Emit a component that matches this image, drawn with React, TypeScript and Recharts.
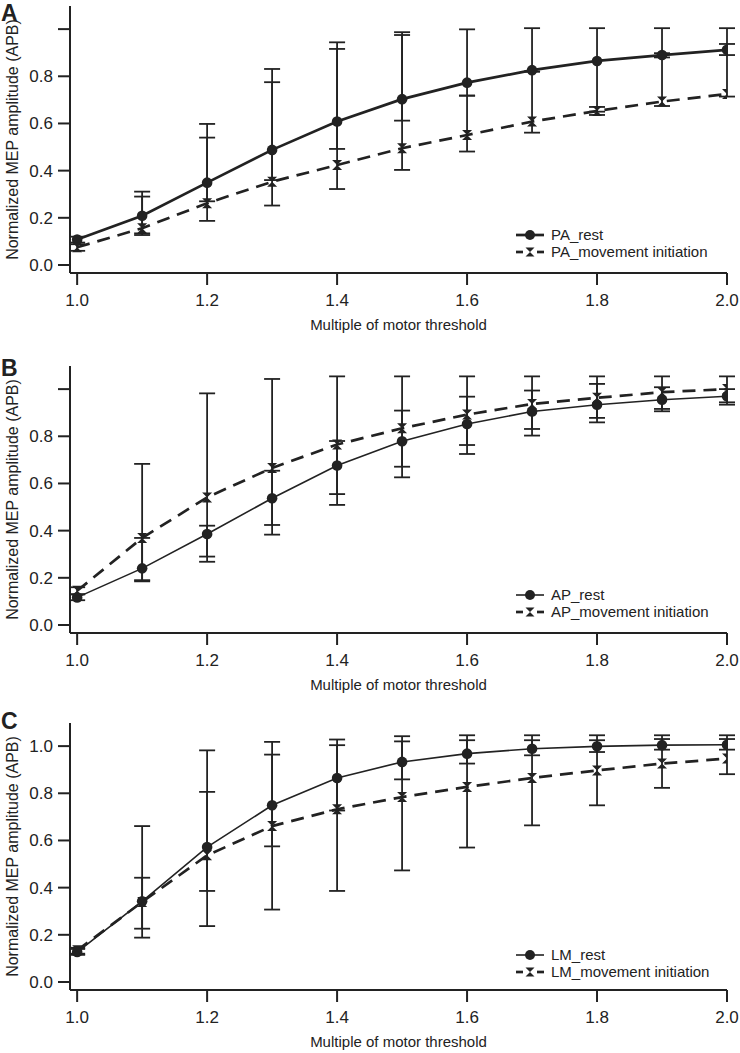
import React from 'react';
import { ErrorBar, Legend, Line, LineChart, XAxis, YAxis } from 'recharts';

// Three stacked panels (A/B/C): normalized MEP amplitude vs. multiple of motor
// threshold, rest vs. movement initiation, with asymmetric error bars.

const X = [1.0, 1.1, 1.2, 1.3, 1.4, 1.5, 1.6, 1.7, 1.8, 1.9, 2.0];
const X_TICKS = [1.0, 1.2, 1.4, 1.6, 1.8, 2.0];
const Y_TICKS = [0, 0.2, 0.4, 0.6, 0.8, 1.0];

// Panel A (PA)
const PA_REST = [0.108, 0.209, 0.349, 0.488, 0.608, 0.703, 0.773, 0.826, 0.865, 0.89, 0.912];
const PA_REST_LO = [0.095, 0.134, 0.27, 0.36, 0.492, 0.612, 0.718, 0.82, 0.65, 0.88, 0.89];
const PA_REST_HI = [0.12, 0.311, 0.598, 0.831, 0.944, 0.987, 0.999, 1.004, 1.004, 1.004, 0.937];
const PA_MOVE = [0.075, 0.156, 0.262, 0.353, 0.424, 0.495, 0.551, 0.608, 0.653, 0.693, 0.725];
const PA_MOVE_LO = [0.06, 0.127, 0.187, 0.252, 0.322, 0.403, 0.481, 0.561, 0.636, 0.674, 0.714];
const PA_MOVE_HI = [0.088, 0.29, 0.54, 0.775, 0.916, 0.975, 0.718, 0.82, 0.67, 0.898, 1.004];

// Panel B (AP)
const PB_REST = [0.117, 0.24, 0.386, 0.537, 0.676, 0.779, 0.852, 0.905, 0.934, 0.955, 0.97];
const PB_REST_LO = [0.105, 0.185, 0.29, 0.383, 0.509, 0.626, 0.725, 0.803, 0.859, 0.906, 0.934];
const PB_REST_HI = [0.13, 0.369, 0.421, 0.654, 0.78, 0.909, 0.968, 0.994, 1.022, 1.008, 1.0];
const PB_MOVE = [0.145, 0.369, 0.541, 0.666, 0.765, 0.834, 0.892, 0.937, 0.963, 0.987, 1.0];
const PB_MOVE_LO = [0.13, 0.19, 0.268, 0.424, 0.555, 0.671, 0.763, 0.831, 0.878, 0.916, 0.944];
const PB_MOVE_HI = [0.16, 0.683, 0.982, 1.043, 1.054, 1.054, 1.054, 1.054, 1.054, 1.054, 1.054];

// Panel C (LM)
const PC_REST = [0.127, 0.342, 0.572, 0.749, 0.865, 0.933, 0.968, 0.989, 0.999, 1.004, 1.006];
const PC_REST_LO = [0.115, 0.226, 0.386, 0.575, 0.727, 0.859, 0.926, 0.961, 0.975, 0.985, 0.985];
const PC_REST_HI = [0.14, 0.442, 0.806, 0.964, 1.004, 1.02, 1.025, 1.025, 1.025, 1.03, 1.03];
const PC_MOVE = [0.134, 0.339, 0.537, 0.661, 0.732, 0.784, 0.827, 0.865, 0.897, 0.926, 0.947];
const PC_MOVE_LO = [0.12, 0.188, 0.237, 0.307, 0.386, 0.473, 0.57, 0.664, 0.749, 0.823, 0.881];
const PC_MOVE_HI = [0.145, 0.661, 0.982, 1.018, 1.028, 1.042, 1.046, 1.046, 1.046, 1.046, 1.046];

const INK = '#222';
const FONT = '"Liberation Sans", Arial, Helvetica, sans-serif';

type PanelDef = {
  letter: string;
  top: number;
  prefix: string;
  rest: number[];
  restLo: number[];
  restHi: number[];
  move: number[];
  moveLo: number[];
  moveHi: number[];
  restWidth: number;
  showTop: boolean;
  legendTop: number;
};

const PANELS: PanelDef[] = [
  { letter: 'A', top: 0, prefix: 'PA', rest: PA_REST, restLo: PA_REST_LO, restHi: PA_REST_HI, move: PA_MOVE, moveLo: PA_MOVE_LO, moveHi: PA_MOVE_HI, restWidth: 2.7, showTop: false, legendTop: 226 },
  { letter: 'B', top: 360, prefix: 'AP', rest: PB_REST, restLo: PB_REST_LO, restHi: PB_REST_HI, move: PB_MOVE, moveLo: PB_MOVE_LO, moveHi: PB_MOVE_HI, restWidth: 1.6, showTop: false, legendTop: 226 },
  { letter: 'C', top: 717, prefix: 'LM', rest: PC_REST, restLo: PC_REST_LO, restHi: PC_REST_HI, move: PC_MOVE, moveLo: PC_MOVE_LO, moveHi: PC_MOVE_HI, restWidth: 1.6, showTop: true, legendTop: 229 },
];

const LETTER_TOP: Record<string, number> = { A: 2, B: 357, C: 710 };

const hourglass = (cx: number, cy: number, s = 5) =>
  `M${cx - s},${cy - s}L${cx + s},${cy - s}L${cx - s},${cy + s}L${cx + s},${cy + s}Z`;

const RestDot = (props: any) => {
  const { cx, cy, index } = props;
  return <circle key={`r${index}`} cx={cx} cy={cy} r={5.3} fill={INK} />;
};

const MoveDot = (props: any) => {
  const { cx, cy, index } = props;
  return <path key={`m${index}`} d={hourglass(cx, cy)} fill={INK} />;
};

const Panel = ({ p }: { p: PanelDef }) => {
  const data = X.map((x, i) => ({
    x,
    rest: p.rest[i],
    move: p.move[i],
    restErr: [p.rest[i] - p.restLo[i], p.restHi[i] - p.rest[i]],
    moveErr: [p.move[i] - p.moveLo[i], p.moveHi[i] - p.move[i]],
  }));

  const legend = () => (
    <div style={{ fontSize: 15, color: INK, fontFamily: FONT }}>
      <div style={{ display: 'flex', alignItems: 'center', height: 17 }}>
        <svg width={28} height={12} style={{ marginRight: 7 }}>
          <line x1={0} y1={6} x2={28} y2={6} stroke={INK} strokeWidth={p.restWidth} />
          <circle cx={14} cy={6} r={5} fill={INK} />
        </svg>
        <span>{p.prefix}_rest</span>
      </div>
      <div style={{ display: 'flex', alignItems: 'center', height: 17 }}>
        <svg width={28} height={12} style={{ marginRight: 7 }}>
          <line x1={0} y1={6} x2={7} y2={6} stroke={INK} strokeWidth={2.7} />
          <line x1={21} y1={6} x2={28} y2={6} stroke={INK} strokeWidth={2.7} />
          <path d={hourglass(14, 6, 4.5)} fill={INK} />
        </svg>
        <span>{p.prefix}_movement initiation</span>
      </div>
    </div>
  );

  return (
    <div style={{ position: 'absolute', left: 0, top: p.top, width: 740, height: 335 }}>
      <LineChart width={740} height={335} data={data} margin={{ top: 6, right: 13, bottom: 0, left: 0 }}>
        <XAxis
          type="number"
          dataKey="x"
          domain={[0.989, 2.0]}
          allowDataOverflow
          ticks={X_TICKS}
          tickFormatter={(v: number) => v.toFixed(1)}
          height={62}
          tickSize={12}
          tickMargin={9}
          stroke={INK}
          axisLine={{ stroke: INK, strokeWidth: 2 }}
          tickLine={{ stroke: INK, strokeWidth: 2 }}
          tick={{ fill: INK, fontSize: 17 }}
          label={{
            content: (props: any) => {
              const vb = props.viewBox;
              return (
                <text x={vb.x + vb.width / 2} y={vb.y + 57} textAnchor="middle" fontSize={15} fill={INK}>
                  Multiple of motor threshold
                </text>
              );
            },
          }}
        />
        <YAxis
          type="number"
          domain={[-0.034, 1.098]}
          allowDataOverflow
          ticks={Y_TICKS}
          tickFormatter={(v: number) => (v === 1 && !p.showTop ? '' : v.toFixed(1))}
          width={70}
          tickSize={12}
          tickMargin={5}
          stroke={INK}
          axisLine={{ stroke: INK, strokeWidth: 2 }}
          tickLine={{ stroke: INK, strokeWidth: 2 }}
          tick={{ fill: INK, fontSize: 17 }}
          label={{
            content: (props: any) => {
              const vb = props.viewBox;
              const cy = vb.y + vb.height / 2;
              return (
                <text
                  transform={`translate(12, ${cy}) rotate(-90)`}
                  textAnchor="middle"
                  dominantBaseline="central"
                  fontSize={16}
                  fill={INK}
                >
                  Normalized MEP amplitude (APB)
                </text>
              );
            },
          }}
        />
        <Legend
          layout="vertical"
          align="center"
          verticalAlign="middle"
          wrapperStyle={{ left: 516, top: p.legendTop, width: 220 }}
          content={legend}
        />
        <Line
          type="linear"
          dataKey="rest"
          name={`${p.prefix}_rest`}
          stroke={INK}
          strokeWidth={p.restWidth}
          dot={RestDot}
          activeDot={false}
          isAnimationActive={false}
        >
          <ErrorBar dataKey="restErr" direction="y" width={8} stroke={INK} strokeWidth={1.8} />
        </Line>
        <Line
          type="linear"
          dataKey="move"
          name={`${p.prefix}_movement initiation`}
          stroke={INK}
          strokeWidth={2.7}
          strokeDasharray="13 8"
          dot={MoveDot}
          activeDot={false}
          isAnimationActive={false}
        >
          <ErrorBar dataKey="moveErr" direction="y" width={8} stroke={INK} strokeWidth={1.8} />
        </Line>
      </LineChart>
    </div>
  );
};

export default function App() {
  return (
    <div
      style={{
        position: 'absolute',
        left: 0,
        top: 0,
        width: 740,
        height: 1053,
        background: '#fff',
        fontFamily: FONT,
        color: INK,
      }}
    >
      {PANELS.map((p) => (
        <Panel key={p.letter} p={p} />
      ))}
      {PANELS.map((p) => (
        <div
          key={`L${p.letter}`}
          style={{
            position: 'absolute',
            left: 1,
            top: LETTER_TOP[p.letter],
            fontSize: 23,
            fontWeight: 'bold',
            lineHeight: 1,
          }}
        >
          {p.letter}
        </div>
      ))}
    </div>
  );
}
